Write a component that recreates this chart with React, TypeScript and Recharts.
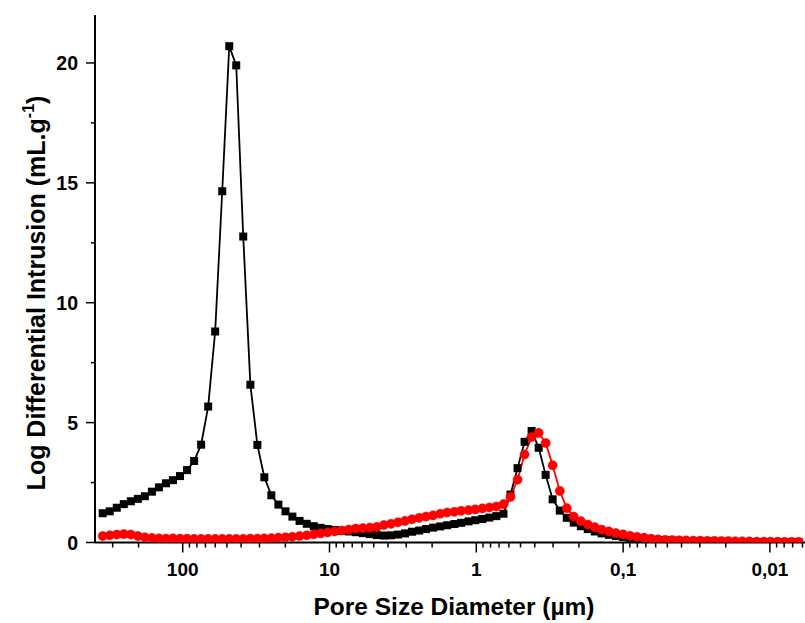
import { LineChart, Line, XAxis, YAxis } from "recharts";

// pore diameters (µm)
const DIAMETER = [
  350.8, 314.1, 281.3, 252.0, 225.6, 202.1, 181.0, 162.1, 145.2, 130.0,
  116.5, 104.3, 93.4, 83.6, 74.9, 67.1, 60.1, 53.8, 48.2, 43.2,
  38.7, 34.6, 31.0, 27.8, 24.9, 22.3, 19.95, 17.9, 16.0, 14.3,
  12.8, 11.5, 10.3, 9.22, 8.26, 7.39, 6.62, 5.93, 5.31, 4.76,
  4.26, 3.81, 3.42, 3.06, 2.74, 2.45, 2.2, 1.97, 1.76, 1.58,
  1.41, 1.27, 1.13, 1.016, 0.91, 0.815, 0.73, 0.653, 0.585, 0.524,
  0.469, 0.42, 0.376, 0.337, 0.302, 0.27, 0.242, 0.217, 0.194, 0.174,
  0.156, 0.14, 0.125, 0.112, 0.1, 0.0898, 0.0804, 0.072, 0.0645, 0.0578,
  0.0517, 0.0463, 0.0415, 0.0372, 0.0333, 0.0298, 0.0267, 0.0239, 0.0214, 0.0192,
  0.0172, 0.0154, 0.0138, 0.0123, 0.011, 0.0099, 0.00886, 0.00794, 0.00711, 0.00637,
];

const BLACK = [
  1.22, 1.3, 1.45, 1.6, 1.72, 1.82, 1.93, 2.12, 2.3, 2.47,
  2.6, 2.77, 3.02, 3.4, 4.08, 5.67, 8.8, 14.65, 20.7, 19.9,
  12.76, 6.58, 4.07, 2.72, 1.97, 1.58, 1.3, 1.08, 0.9, 0.78,
  0.68, 0.61, 0.56, 0.52, 0.49, 0.46, 0.43, 0.39, 0.35, 0.31,
  0.29, 0.3, 0.33, 0.38, 0.45, 0.5, 0.56, 0.62, 0.67, 0.72,
  0.77, 0.82, 0.88, 0.93, 0.98, 1.04, 1.1, 1.2, 2.0, 3.1,
  4.2, 4.65, 3.95, 2.82, 1.8, 1.33, 1.03, 0.83, 0.68, 0.56,
  0.46, 0.38, 0.32, 0.27, 0.23, 0.19, 0.16, 0.14, 0.12, 0.1,
  0.09, 0.08, 0.07, 0.06, 0.05, 0.045, 0.04, 0.035, 0.03, 0.03,
  0.025, 0.02, 0.02, 0.02, 0.015, 0.015, 0.01, 0.01, 0.01, 0.01,
];

const RED = [
  0.27, 0.3, 0.33, 0.35, 0.33, 0.27, 0.22, 0.19, 0.17, 0.16,
  0.17, 0.16, 0.16, 0.15, 0.15, 0.15, 0.15, 0.15, 0.15, 0.15,
  0.15, 0.16, 0.16, 0.17, 0.18, 0.2, 0.22, 0.24, 0.27, 0.3,
  0.34, 0.38, 0.42, 0.46, 0.5, 0.54, 0.58, 0.6, 0.62, 0.65,
  0.73, 0.78, 0.84, 0.9, 0.97, 1.03, 1.08, 1.13, 1.2, 1.25,
  1.28, 1.32, 1.35, 1.38, 1.42, 1.46, 1.5, 1.6, 1.9, 2.62,
  3.67, 4.4, 4.57, 4.15, 3.22, 2.15, 1.43, 1.08, 0.89, 0.75,
  0.64, 0.54, 0.46, 0.39, 0.34, 0.28, 0.24, 0.2, 0.16, 0.13,
  0.11, 0.1, 0.09, 0.085, 0.08, 0.075, 0.07, 0.065, 0.06, 0.055,
  0.05, 0.05, 0.045, 0.04, 0.04, 0.035, 0.035, 0.03, 0.03, 0.03,
];

const X_MAJOR = [100, 10, 1, 0.1, 0.01];
const X_MINOR = [
  300, 200, 90, 80, 70, 60, 50, 40, 30, 20,
  9, 8, 7, 6, 5, 4, 3, 2, 0.9, 0.8, 0.7, 0.6, 0.5, 0.4, 0.3, 0.2,
  0.09, 0.08, 0.07, 0.06, 0.05, 0.04, 0.03, 0.02, 0.009, 0.008, 0.007, 0.006,
];
const Y_MAJOR = [0, 5, 10, 15, 20];
const Y_MINOR = [2.5, 7.5, 12.5, 17.5];

const data = DIAMETER.map((d, i) => ({ d, black: BLACK[i], red: RED[i] }));

const FONT = "'Liberation Sans', Arial, sans-serif";

function XTick({ x, y, payload }: any) {
  const major = X_MAJOR.includes(payload.value);
  return (
    <g>
      <line x1={x} x2={x} y1={y} y2={y + (major ? 10 : 5)} stroke="#000" strokeWidth={1.5} />
      {major && (
        <text x={x} y={y + 33} textAnchor="middle" fontFamily={FONT} fontWeight="bold" fontSize={19} fill="#000">
          {String(payload.value).replace(".", ",")}
        </text>
      )}
    </g>
  );
}

function TopTick({ x, y }: any) {
  return <line x1={x} x2={x} y1={y} y2={y - 2} stroke="#000" strokeWidth={1} />;
}

function YTick({ x, y, payload }: any) {
  const major = Y_MAJOR.includes(payload.value);
  return (
    <g>
      <line x1={x} x2={x - (major ? 9 : 4)} y1={y} y2={y} stroke="#000" strokeWidth={1.5} />
      {major && (
        <text x={x - 17} y={y + 7} textAnchor="end" fontFamily={FONT} fontWeight="bold" fontSize={19.5} fill="#000">
          {payload.value}
        </text>
      )}
    </g>
  );
}

const square = (p: any) => (
  <rect key={`sq-${p.index}`} x={p.cx - 4} y={p.cy - 4} width={8} height={8} fill="#000" />
);

export default function App() {
  return (
    <div style={{ position: "absolute", left: 0, top: 0, background: "#fff" }}>
      <LineChart width={805} height={623} data={data} margin={{ top: 15, right: 0, left: 0, bottom: 0 }}>
        <XAxis
          dataKey="d"
          type="number"
          scale="log"
          domain={[0.005768, 395.8]}
          allowDataOverflow
          reversed
          ticks={[...X_MAJOR, ...X_MINOR]}
          interval={0}
          tickSize={0}
          tickMargin={0}
          tick={<XTick />}
          height={80.5}
          axisLine={{ stroke: "#000", strokeWidth: 2 }}
          label={{
            content: ({ viewBox }: any) => (
              <text
                x={viewBox.x + viewBox.width / 2 + 4}
                y={viewBox.y + 72.5}
                textAnchor="middle"
                fontFamily={FONT}
                fontWeight="bold"
                fontSize={24.5}
                fill="#000"
              >
                Pore Size Diameter (µm)
              </text>
            ),
          }}
        />
        <XAxis
          xAxisId="top"
          orientation="top"
          dataKey="d"
          type="number"
          scale="log"
          domain={[0.005768, 395.8]}
          allowDataOverflow
          reversed
          ticks={[...X_MAJOR, ...X_MINOR]}
          interval={0}
          tickSize={0}
          tickMargin={0}
          tick={<TopTick />}
          height={0}
          axisLine={{ stroke: "#000", strokeWidth: 2 }}
        />
        <YAxis
          type="number"
          domain={[0, 22]}
          allowDataOverflow
          ticks={[...Y_MAJOR, ...Y_MINOR]}
          interval={0}
          tickSize={0}
          tickMargin={0}
          tick={<YTick />}
          width={95}
          axisLine={{ stroke: "#000", strokeWidth: 2 }}
          label={{
            content: ({ viewBox }: any) => (
              <text
                transform={`translate(45, ${viewBox.y + 278}) rotate(-90)`}
                textAnchor="middle"
                fontFamily={FONT}
                fontWeight="bold"
                fontSize={25}
                fill="#000"
              >
                Log Differential Intrusion (mL.g
                <tspan dy={-11} fontSize={16}>-1</tspan>
                <tspan dy={11}>)</tspan>
              </text>
            ),
          }}
        />
        <Line
          dataKey="black"
          stroke="#000"
          strokeWidth={1.8}
          dot={square}
          activeDot={false}
          isAnimationActive={false}
        />
        <Line
          dataKey="red"
          stroke="#ff0000"
          strokeWidth={1.8}
          dot={{ r: 4.6, fill: "#ff0000", stroke: "#ff0000", strokeWidth: 0.5 }}
          activeDot={false}
          isAnimationActive={false}
        />
      </LineChart>
    </div>
  );
}
